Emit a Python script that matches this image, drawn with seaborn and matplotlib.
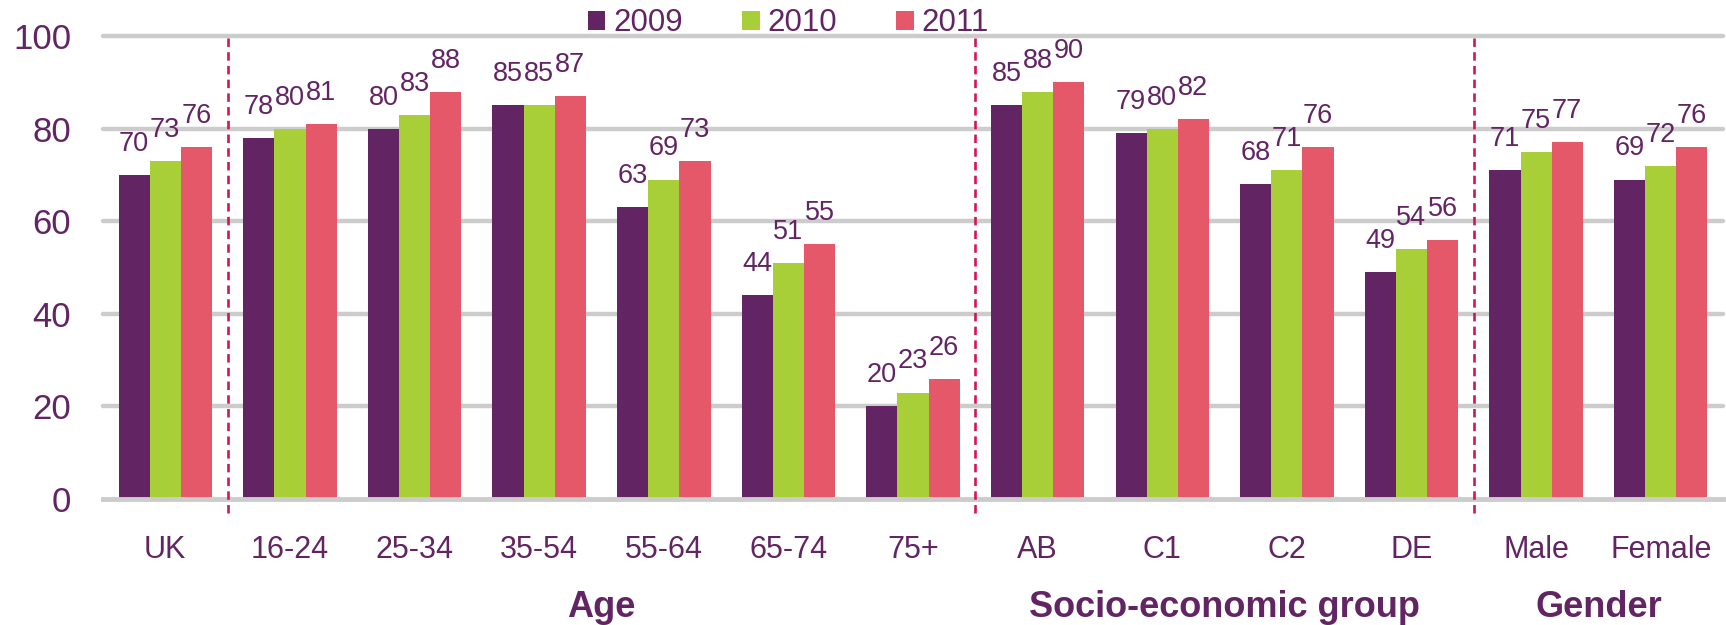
import matplotlib
matplotlib.use("Agg")
import matplotlib.pyplot as plt
from matplotlib.patches import Patch
from matplotlib.transforms import blended_transform_factory
import seaborn as sns
import pandas as pd

# Categories and yearly percentages
categories = ["UK", "16-24", "25-34", "35-54", "55-64", "65-74", "75+",
              "AB", "C1", "C2", "DE", "Male", "Female"]
years = ["2009", "2010", "2011"]
values_2009 = [70, 78, 80, 85, 63, 44, 20, 85, 79, 68, 49, 71, 69]
values_2010 = [73, 80, 83, 85, 69, 51, 23, 88, 80, 71, 54, 75, 72]
values_2011 = [76, 81, 88, 87, 73, 55, 26, 90, 82, 76, 56, 77, 76]
y_ticks = [0, 20, 40, 60, 80, 100]

# Section headings: (label, centre position in category units)
sections = [("Age", 3.5), ("Socio-economic group", 8.5), ("Gender", 11.5)]
dividers = [0.5, 6.5, 10.5]

PURPLE = "#622462"
GREEN = "#a9cf38"
PINK = "#e55869"
GRID = "#cccccc"
DIVIDER = "#d4145a"
palette = {"2009": PURPLE, "2010": GREEN, "2011": PINK}

rows = []
for yr, vals in zip(years, [values_2009, values_2010, values_2011]):
    for cat, v in zip(categories, vals):
        rows.append({"category": cat, "year": yr, "value": v})
df = pd.DataFrame(rows)

sns.set_theme(style="white")
plt.rcParams["font.family"] = ["Liberation Sans", "DejaVu Sans"]

fig = plt.figure(figsize=(17.26, 6.25), dpi=100)
ax = fig.add_axes([103 / 1726, 1 - 499 / 625, 1620 / 1726, 463 / 625])

sns.barplot(data=df, x="category", y="value", hue="year", order=categories,
            hue_order=years, palette=palette, width=0.75, saturation=1,
            linewidth=0, ax=ax, legend=False, zorder=3)

for container in ax.containers:
    ax.bar_label(container, fmt="%d", padding=13, fontsize=19.5, color=PURPLE)

ax.set_xlim(-0.5, len(categories) - 0.5)
ax.set_ylim(0, 100)
ax.set_yticks(y_ticks)
ax.set_xlabel("")
ax.set_ylabel("")

# Horizontal gridlines
for y in y_ticks[1:]:
    ax.axhline(y, color=GRID, lw=3.2, zorder=1, clip_on=False)

for side in ["top", "right", "left"]:
    ax.spines[side].set_visible(False)
ax.spines["bottom"].set_color(GRID)
ax.spines["bottom"].set_linewidth(3.5)
ax.spines["bottom"].set_zorder(4)

ax.tick_params(axis="y", length=0, pad=23, labelsize=25, labelcolor=PURPLE)
ax.tick_params(axis="x", which="major", length=0, pad=26, labelsize=22,
               labelcolor=PURPLE)
ax.set_xticks([i - 0.5 for i in range(len(categories) + 1)], minor=True)
ax.tick_params(axis="x", which="minor", direction="in", length=7, width=2,
               color=GRID)

# Dashed separators between sections
ax.vlines(dividers, -3, 100, colors=DIVIDER, linestyles=(0, (3.2, 2)),
          lw=1.9, zorder=5, clip_on=False)

# Section headings below the category labels
trans = blended_transform_factory(ax.transData, ax.transAxes)
for label, xpos in sections:
    ax.text(xpos, -0.255, label, transform=trans, ha="center", va="baseline",
            fontsize=26, fontweight="bold", color=PURPLE)

handles = [Patch(facecolor=palette[y], edgecolor="none") for y in years]
fig.legend(handles, years, loc="center", bbox_to_anchor=(0.4568, 0.963),
           ncol=3, frameon=False, fontsize=22.5, labelcolor=PURPLE,
           handlelength=0.56, handleheight=0.56, handletextpad=0.25,
           columnspacing=1.9, borderpad=0)

fig.savefig("out.png", dpi=100)
